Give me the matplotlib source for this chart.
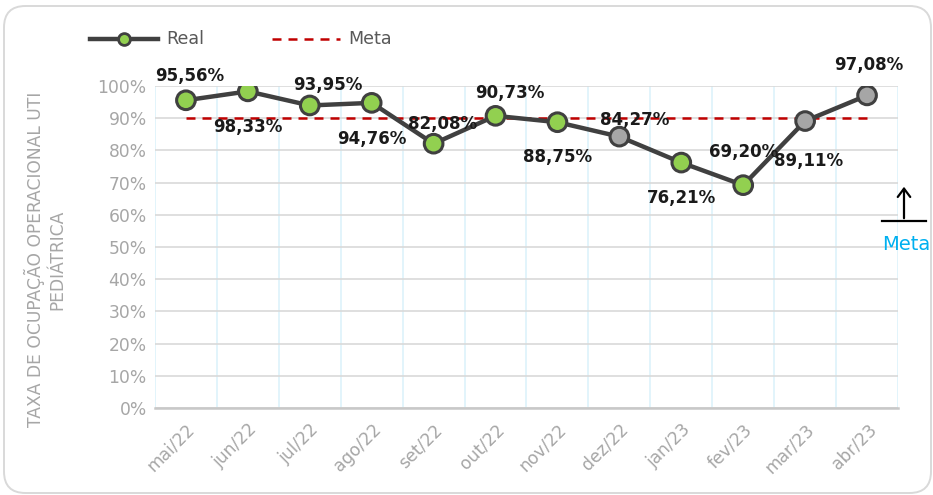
import matplotlib
matplotlib.use("Agg")
import matplotlib.pyplot as plt
from matplotlib.patches import FancyBboxPatch
import numpy as np

months = ["mai/22", "jun/22", "jul/22", "ago/22", "set/22", "out/22",
          "nov/22", "dez/22", "jan/23", "fev/23", "mar/23", "abr/23"]
real = [95.56, 98.33, 93.95, 94.76, 82.08, 90.73, 88.75, 84.27, 76.21, 69.20, 89.11, 97.08]
meta = [90] * 12
y_ticks = [0, 10, 20, 30, 40, 50, 60, 70, 80, 90, 100]

# styling (not data)
green, gray = "#92D050", "#A6A6A6"
marker_colors = [green] * 7 + [gray, green, green, gray, gray]
label_offsets = [(4, 24), (0, -36), (18, 20), (0, -36), (9, 20), (14, 23),
                 (0, -35), (15, 17), (0, -35), (0, 33), (3, -40), (2, 30)]

plt.rcParams['font.family'] = ['DejaVu Sans']

fig = plt.figure(figsize=(9.33, 4.95), dpi=100)
border = FancyBboxPatch((4/933, 2/495), 927/933, 487/495,
                        boxstyle="round,pad=0,rounding_size=0.023",
                        transform=fig.transFigure, fc="white", ec="#D9D9D9", lw=1.4,
                        mutation_aspect=933/495, zorder=-10)
fig.patches.append(border)

ax = fig.add_axes([0.1661, 0.1758, 0.7964, 0.6505])
ax.set_facecolor("none")
x = np.arange(len(months))
vals = np.array(real) / 100

ax.set_xlim(-0.5, len(months) - 0.5)
ax.set_ylim(0, 1)
ax.set_yticks(np.array(y_ticks) / 100)
ax.set_yticklabels([f"{t}%" for t in y_ticks], color="#A6A6A6", fontsize=12.3)
ax.set_xticks(x)
ax.set_xticklabels(months, rotation=45, ha="right", rotation_mode="anchor",
                   color="#A6A6A6", fontsize=12.3)
ax.set_xticks(np.arange(-0.5, len(months), 1), minor=True)
ax.tick_params(axis="both", which="both", length=0)
ax.tick_params(axis="x", pad=9)
ax.tick_params(axis="y", pad=6)

ax.grid(axis="y", which="major", color="#D9D9D9", lw=1.2)
ax.grid(axis="x", which="minor", color="#DAF1FA", lw=1.1)
for s in ["top", "right", "left"]:
    ax.spines[s].set_visible(False)
ax.spines["bottom"].set_color("#C8C8C8")
ax.spines["bottom"].set_linewidth(1.8)
ax.set_axisbelow(True)

ax.plot(x, np.array(meta) / 100, color="#C00000", lw=1.8, ls=(0, (3.6, 2.8)), zorder=2)
ax.plot(x, vals, color="#404040", lw=3.2, zorder=3)
ax.scatter(x, vals, s=180, c=marker_colors, edgecolors="#404040", linewidths=2.2, zorder=4)

for xi, v, (dx, dy) in zip(x, real, label_offsets):
    ax.annotate(f"{v:.2f}%".replace(".", ","), (xi, v / 100), xytext=(dx, dy),
                textcoords="offset pixels", ha="center", va="center",
                fontsize=12, fontweight="bold", color="#1A1A1A", zorder=5,
                annotation_clip=False)

ax.set_ylabel("TAXA DE OCUPAÇÃO OPERACIONAL UTI\nPEDIÁTRICA", color="#A6A6A6",
              fontsize=12.3, linespacing=1.25)
ax.yaxis.set_label_coords(-0.119, 0.46)

# legend (manual, to match layout)
ly = 1 - 39 / 495
fig.lines.append(plt.Line2D([90/933, 158/933], [ly]*2, transform=fig.transFigure,
                            color="#404040", lw=3.2))
fig.lines.append(plt.Line2D([124/933], [ly], transform=fig.transFigure,
                            marker="o", ms=8.5, mfc=green, mec="#404040", mew=2, ls="none"))
fig.text(166/933, ly, "Real", color="#595959", fontsize=12.6, va="center")
fig.lines.append(plt.Line2D([272/933, 340/933], [ly]*2, transform=fig.transFigure,
                            color="#C00000", lw=1.8, ls=(0, (3.6, 2.8))))
fig.text(348/933, ly, "Meta", color="#595959", fontsize=12.6, va="center")

# arrow "Meta" annotation
ax_arrow = fig.add_axes([0, 0, 1, 1], facecolor="none")
ax_arrow.set_axis_off()
ax_arrow.set_xlim(0, 933)
ax_arrow.set_ylim(495, 0)
ax_arrow.plot([882, 926], [221, 221], color="black", lw=1.6)
ax_arrow.annotate("", xy=(904, 184), xytext=(904, 221),
                  arrowprops=dict(arrowstyle="->,head_width=0.45,head_length=0.6",
                                  color="black", lw=1.6))
ax_arrow.text(906, 245, "Meta", color="#00B0F0", fontsize=14, ha="center", va="center")

fig.savefig("out.png", dpi=100)
